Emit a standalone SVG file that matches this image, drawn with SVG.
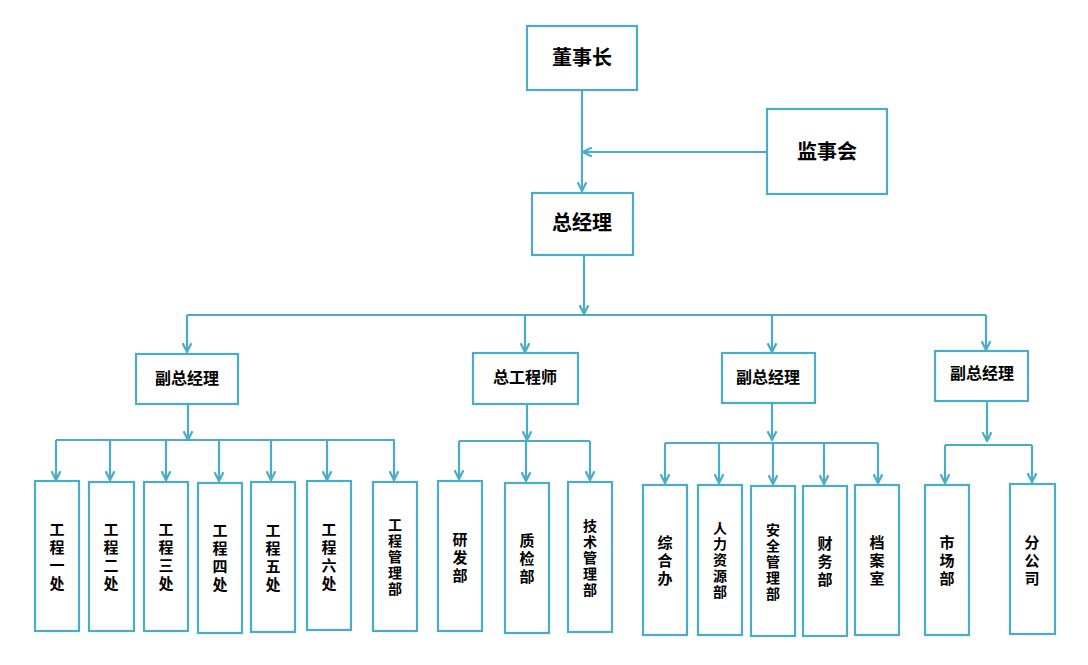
<svg xmlns="http://www.w3.org/2000/svg" width="1088" height="665" viewBox="0 0 1088 665">
<style>
.box{fill:#fff;stroke:#4bacc6;stroke-width:2.2}
.ln{fill:none;stroke:#4bacc6;stroke-width:2.2}
.arr{marker-end:url(#ah)}
text{font-family:"Noto Sans CJK SC","Noto Sans CJK JP",sans-serif;font-weight:bold;fill:#000;text-anchor:middle}
.t1{font-size:20px}
.t2{font-size:16px}
.v3{font-size:15px;writing-mode:vertical-rl;letter-spacing:3px}
.v4{font-size:14px;writing-mode:vertical-rl;letter-spacing:2px}
</style>
<defs>
<marker id="ah" viewBox="0 0 10 10" refX="9" refY="5" markerWidth="11" markerHeight="11" markerUnits="userSpaceOnUse" orient="auto">
<path d="M1,1 L9,5 L1,9" fill="none" stroke="#4bacc6" stroke-width="2"/>
</marker>
</defs>
<rect width="1088" height="665" fill="#fff"/>
<g id="connectors">
<line class="ln arr" x1="582" y1="91" x2="582" y2="191"/>
<line class="ln arr" x1="767" y1="152" x2="583" y2="152"/>
<line class="ln arr" x1="584" y1="255" x2="584" y2="314"/>
<line class="ln" x1="187" y1="315" x2="986" y2="315"/>
<line class="ln arr" x1="187" y1="315" x2="187" y2="352"/>
<line class="ln arr" x1="525" y1="315" x2="525" y2="352"/>
<line class="ln arr" x1="772" y1="315" x2="772" y2="352"/>
<line class="ln arr" x1="986" y1="315" x2="986" y2="350"/>
<line class="ln arr" x1="188" y1="404" x2="188" y2="440"/>
<line class="ln" x1="56" y1="440" x2="395" y2="440"/>
<line class="ln arr" x1="56" y1="440" x2="56" y2="480"/>
<line class="ln arr" x1="110" y1="440" x2="110" y2="480"/>
<line class="ln arr" x1="166" y1="440" x2="166" y2="480"/>
<line class="ln arr" x1="219" y1="440" x2="219" y2="481"/>
<line class="ln arr" x1="271" y1="440" x2="271" y2="480"/>
<line class="ln arr" x1="327" y1="440" x2="327" y2="480"/>
<line class="ln arr" x1="394" y1="440" x2="394" y2="480"/>
<line class="ln arr" x1="527" y1="404" x2="527" y2="440"/>
<line class="ln" x1="459" y1="441" x2="590" y2="441"/>
<line class="ln arr" x1="459" y1="441" x2="459" y2="479"/>
<line class="ln arr" x1="526" y1="441" x2="526" y2="481"/>
<line class="ln arr" x1="590" y1="441" x2="590" y2="480"/>
<line class="ln arr" x1="772" y1="403" x2="772" y2="440"/>
<line class="ln" x1="665" y1="443" x2="878" y2="443"/>
<line class="ln arr" x1="665" y1="443" x2="665" y2="483"/>
<line class="ln arr" x1="719" y1="443" x2="719" y2="483"/>
<line class="ln arr" x1="773" y1="443" x2="773" y2="484"/>
<line class="ln arr" x1="824" y1="443" x2="824" y2="484"/>
<line class="ln arr" x1="878" y1="443" x2="878" y2="483"/>
<line class="ln arr" x1="987" y1="401" x2="987" y2="441"/>
<line class="ln" x1="945" y1="445" x2="1032" y2="445"/>
<line class="ln arr" x1="945" y1="445" x2="945" y2="483"/>
<line class="ln arr" x1="1032" y1="445" x2="1032" y2="482"/>
</g>
<g id="n-dongshizhang"><rect class="box" x="527" y="26" width="110" height="64"/><text class="t1" x="582" y="65">董事长</text></g>
<g id="n-jianshihui"><rect class="box" x="767" y="109" width="120" height="85"/><text class="t1" x="827" y="159">监事会</text></g>
<g id="n-zongjingli"><rect class="box" x="532" y="193" width="101" height="62"/><text class="t1" x="582" y="230">总经理</text></g>
<g id="n-fz1"><rect class="box" x="136" y="354" width="102" height="50"/><text class="t2" x="187" y="384">副总经理</text></g>
<g id="n-zgcs"><rect class="box" x="473" y="353" width="105" height="51"/><text class="t2" x="525" y="383">总工程师</text></g>
<g id="n-fz2"><rect class="box" x="722" y="353" width="93" height="50"/><text class="t2" x="768" y="383">副总经理</text></g>
<g id="n-fz3"><rect class="box" x="935" y="351" width="93" height="50"/><text class="t2" x="982" y="379">副总经理</text></g>

<g id="n-gc1"><rect class="box" x="35" y="481" width="44" height="150"/><text class="v3" x="57" y="557.5">工程一处</text></g>
<g id="n-gc2"><rect class="box" x="89" y="482" width="45" height="149"/><text class="v3" x="111" y="557.5">工程二处</text></g>
<g id="n-gc3"><rect class="box" x="144" y="482" width="44" height="149"/><text class="v3" x="166" y="557.5">工程三处</text></g>
<g id="n-gc4"><rect class="box" x="198" y="483" width="44" height="150"/><text class="v3" x="220" y="559">工程四处</text></g>
<g id="n-gc5"><rect class="box" x="251" y="482" width="44" height="150"/><text class="v3" x="273" y="559">工程五处</text></g>
<g id="n-gc6"><rect class="box" x="307" y="481" width="44" height="149"/><text class="v3" x="329" y="557.5">工程六处</text></g>
<g id="n-gcgl"><rect class="box" x="373" y="482" width="44" height="149"/><text class="v4" x="395" y="558">工程管理部</text></g>

<g id="n-yfb"><rect class="box" x="438" y="481" width="44" height="150"/><text class="v3" x="460" y="559">研发部</text></g>
<g id="n-zjb"><rect class="box" x="505" y="483" width="44" height="150"/><text class="v3" x="527" y="560">质检部</text></g>
<g id="n-jsglb"><rect class="box" x="568" y="482" width="44" height="150"/><text class="v4" x="590" y="558.5">技术管理部</text></g>

<g id="n-zhb"><rect class="box" x="643" y="485" width="44" height="150"/><text class="v3" x="665" y="561.5">综合办</text></g>
<g id="n-rlzyb"><rect class="box" x="698" y="485" width="44" height="150"/><text class="v4" x="720" y="561">人力资源部</text></g>
<g id="n-aqglb"><rect class="box" x="751" y="486" width="44" height="150"/><text class="v4" x="773" y="562.5">安全管理部</text></g>
<g id="n-cwb"><rect class="box" x="803" y="486" width="44" height="150"/><text class="v3" x="825" y="563">财务部</text></g>
<g id="n-das"><rect class="box" x="855" y="485" width="44" height="150"/><text class="v3" x="877" y="561.5">档案室</text></g>

<g id="n-scb"><rect class="box" x="925" y="485" width="44" height="150"/><text class="v3" x="947" y="561.5">市场部</text></g>
<g id="n-fgs"><rect class="box" x="1010" y="484" width="45" height="150"/><text class="v3" x="1032" y="561.5">分公司</text></g>
</svg>
